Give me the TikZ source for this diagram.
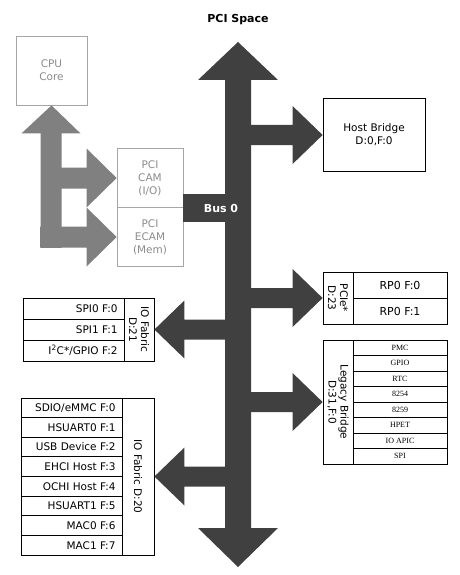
\documentclass[tikz,border=0pt]{standalone}
\usepackage{fontspec}
\setmainfont{DejaVu Sans}
\newfontfamily\smallserif{Liberation Serif}
\usetikzlibrary{positioning}
\definecolor{busdark}{HTML}{404040}
\definecolor{cfggray}{HTML}{808080}
\definecolor{cfgline}{HTML}{A6A6A6}
\definecolor{cfgtext}{HTML}{8C8C8C}

\begin{document}
\begin{tikzpicture}[x=1pt, y=-1pt,
  bus/.style={fill=busdark},
  cfgarrow/.style={fill=cfggray},
  cfgbox/.style={draw=cfgline, line width=0.8pt, fill=white, text=cfgtext, align=center, inner sep=0pt, font=\fontsize{10.5}{13}\selectfont},
  devbox/.style={draw=black, line width=0.8pt, fill=white, align=center, inner sep=0pt},
  rowtxt/.style={font=\fontsize{10.5}{12}\selectfont, anchor=east},
  lbltxt/.style={rotate=-90, align=center, font=\fontsize{10.5}{12}\selectfont},
  lgtxt/.style={font=\smallserif\fontsize{8}{9}\selectfont},
  sep/.style={line width=0.8pt}
]
  \useasboundingbox (0,0) rectangle (460,575);
  \node[font=\bfseries\fontsize{11}{13}\selectfont] (title) at (238,20) {PCI Space};

  % boxes on the bus
  \node[devbox, minimum width=102, minimum height=73, font=\fontsize{10.5}{13}\selectfont] (host) at (374,135) {Host Bridge\\D:0,F:0};
  \node[devbox, minimum width=124, minimum height=52] (pcie) at (385,298) {};
  \node[devbox, minimum width=124, minimum height=124] (legacy) at (385,402) {};
  \node[devbox, minimum width=131, minimum height=63] (fab21) at (88.5,329.5) {};
  \node[devbox, minimum width=133, minimum height=157] (fab20) at (87.5,476.5) {};

  % config access (grey part)
  \node[cfgbox, minimum width=71, minimum height=69] (cpu) at (51.5,70.5) {CPU\\Core};
  \node[cfgbox, minimum width=66, minimum height=59] (cam) at (150,178) {PCI\\CAM\\(I/O)};
  \node[cfgbox, minimum width=66, minimum height=59] (ecam) at (150,237) {PCI\\ECAM\\(Mem)};
  \fill[cfgarrow] (cpu.south) -- ++(29,28) -- ++(-19,0) -- ++(0,114.5) -- ++(-21,0) -- ++(0,-114.5) -- ++(-19,0) -- cycle;
  \fill[cfgarrow] (cam.west) -- ++(-30,-29.5) -- ++(0,19) -- ++(-26,0) -- ++(0,21) -- ++(26,0) -- ++(0,19) -- cycle;
  \fill[cfgarrow] (ecam.west) -- ++(-30,-29.5) -- ++(0,19) -- ++(-46.5,0) -- ++(0,21) -- ++(46.5,0) -- ++(0,19) -- cycle;

  % bus 0, both ways
  \fill[bus] (238,42) -- (278,80) -- (251,80) -- (251,528) -- (278,528) -- (238,567)
        -- (198,528) -- (225,528) -- (225,80) -- (198,80) -- cycle;
  \fill[bus] (cam.south east) ++(0,-14) rectangle (226,222);
  \node[text=white, font=\bfseries\fontsize{11}{13}\selectfont] (bus0) at (221,208) {Bus 0};

  % branches to the devices
  \fill[bus] (host.west) -- ++(-30,-29) -- ++(0,19) -- ++(-43,0) -- ++(0,20) -- ++(43,0) -- ++(0,19) -- cycle;
  \fill[bus] (pcie.west) -- ++(-30,-29) -- ++(0,19) -- ++(-43,0) -- ++(0,20) -- ++(43,0) -- ++(0,19) -- cycle;
  \fill[bus] (legacy.west) -- ++(-30,-29) -- ++(0,19) -- ++(-43,0) -- ++(0,20) -- ++(43,0) -- ++(0,19) -- cycle;
  \fill[bus] (fab21.east) -- ++(30,-29) -- ++(0,19) -- ++(43,0) -- ++(0,20) -- ++(-43,0) -- ++(0,19) -- cycle;
  \fill[bus] (fab20.east) -- ++(30,-29) -- ++(0,19) -- ++(43,0) -- ++(0,20) -- ++(-43,0) -- ++(0,19) -- cycle;

  % PCIe root port
  \draw[sep] (353,272) -- (353,324);
  \draw[sep] (353,298) -- (447,298);
  \node[lbltxt] (pcielbl) at (338,298) {PCIe*\\D:23};
  \node[font=\fontsize{11}{13}\selectfont] (rp0) at (400,285) {RP0 F:0};
  \node[font=\fontsize{11}{13}\selectfont] (rp1) at (400,311) {RP0 F:1};

  % legacy bridge functions
  \draw[sep] (353,340) -- (353,464);
  \foreach \i in {1,...,7}
    \draw[sep] (353,340+15.5*\i) -- (447,340+15.5*\i);
  \node[lbltxt] (lglbl) at (338,402) {Legacy Bridge\\D:31,F:0};
  \foreach \fn [count=\i] in {PMC,GPIO,RTC,8254,8259,HPET,IO APIC,SPI}
    \node[lgtxt] (lg\i) at (400,340+15.5*\i-7.75) {\fn};

  % IO fabric D:21
  \draw[sep] (124,298) -- (124,361);
  \foreach \i in {1,2}
    \draw[sep] (23,298+21*\i) -- (124,298+21*\i);
  \node[lbltxt] (f21lbl) at (139,329.5) {IO Fabric\\D:21};
  \node[rowtxt] (spi0) at (121,308.5) {SPI0 F:0};
  \node[rowtxt] (spi1) at (121,329.5) {SPI1 F:1};
  \node[rowtxt] (i2c) at (121,350.5) {I\textsuperscript{2}C*/GPIO F:2};

  % IO fabric D:20
  \draw[sep] (122,398) -- (122,555);
  \foreach \i in {1,...,7}
    \draw[sep] (21,398+19.625*\i) -- (122,398+19.625*\i);
  \node[lbltxt] (f20lbl) at (138,476.5) {IO Fabric D:20};
  \foreach \fn [count=\i] in {SDIO/eMMC F:0,HSUART0 F:1,USB Device F:2,EHCI Host F:3,OCHI Host F:4,HSUART1 F:5,MAC0 F:6,MAC1 F:7}
    \node[rowtxt] (f20r\i) at (119,398+19.625*\i-9.8) {\fn};
\end{tikzpicture}
\end{document}
